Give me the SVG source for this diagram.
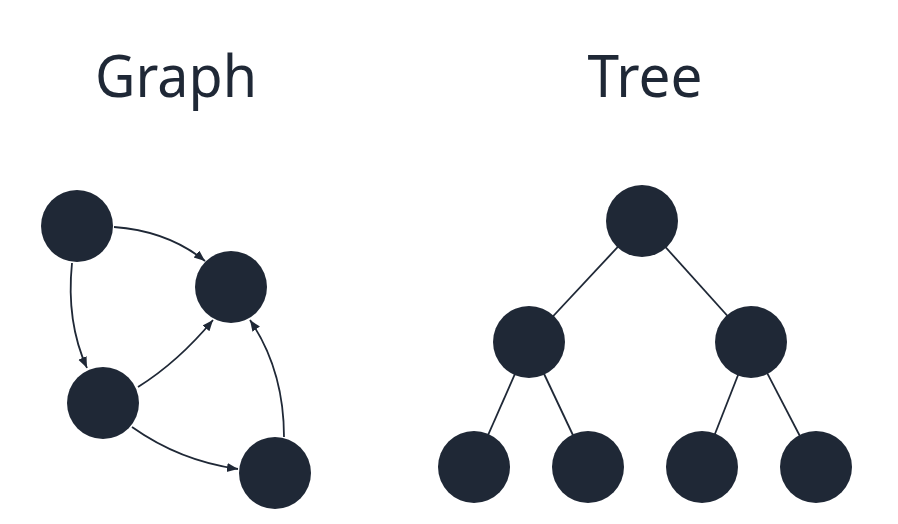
<svg xmlns="http://www.w3.org/2000/svg" width="898" height="524" viewBox="0 0 898 524">
<style>
.title{font-family:"Noto Sans","Open Sans",sans-serif;font-size:58px;fill:#1f2836;text-anchor:middle}
.node{fill:#1f2836}
.edge{fill:none;stroke:#1f2836;stroke-width:1.8}
</style>
<defs>
<marker id="arr" markerUnits="userSpaceOnUse" markerWidth="12" markerHeight="10" refX="11" refY="4.5" orient="auto">
<path d="M0,0 L11,4.5 L0,9 z" fill="#1f2836"/>
</marker>
</defs>
<rect width="898" height="524" fill="#ffffff"/>
<text class="title" x="176" y="97" textLength="162" lengthAdjust="spacingAndGlyphs">Graph</text>
<text class="title" x="645" y="97" textLength="115" lengthAdjust="spacingAndGlyphs">Tree</text>
<g id="connectors">
<path class="edge" marker-end="url(#arr)" d="M114,227 Q168,231 205,261"/>
<path class="edge" marker-end="url(#arr)" d="M72,263 Q66,322 87,368"/>
<path class="edge" marker-end="url(#arr)" d="M138,387 Q178,362 213,320"/>
<path class="edge" marker-end="url(#arr)" d="M132,427 Q180,461 238,469"/>
<path class="edge" marker-end="url(#arr)" d="M284,437 Q284,370 250,320"/>
<line class="edge" x1="642" y1="221" x2="529" y2="342"/>
<line class="edge" x1="642" y1="221" x2="751" y2="342"/>
<line class="edge" x1="529" y1="342" x2="474" y2="467"/>
<line class="edge" x1="529" y1="342" x2="588" y2="467"/>
<line class="edge" x1="751" y1="342" x2="702" y2="467"/>
<line class="edge" x1="751" y1="342" x2="816" y2="467"/>
</g>
<g id="g-a"><circle class="node" cx="77" cy="226" r="36"/></g>
<g id="g-b"><circle class="node" cx="231" cy="287" r="36"/></g>
<g id="g-c"><circle class="node" cx="103" cy="403" r="36"/></g>
<g id="g-d"><circle class="node" cx="275" cy="473" r="36"/></g>
<g id="t-root"><circle class="node" cx="642" cy="221" r="36"/></g>
<g id="t-l"><circle class="node" cx="529" cy="342" r="36"/></g>
<g id="t-r"><circle class="node" cx="751" cy="342" r="36"/></g>
<g id="t-ll"><circle class="node" cx="474" cy="467" r="36"/></g>
<g id="t-lr"><circle class="node" cx="588" cy="467" r="36"/></g>
<g id="t-rl"><circle class="node" cx="702" cy="467" r="36"/></g>
<g id="t-rr"><circle class="node" cx="816" cy="467" r="36"/></g>
</svg>
